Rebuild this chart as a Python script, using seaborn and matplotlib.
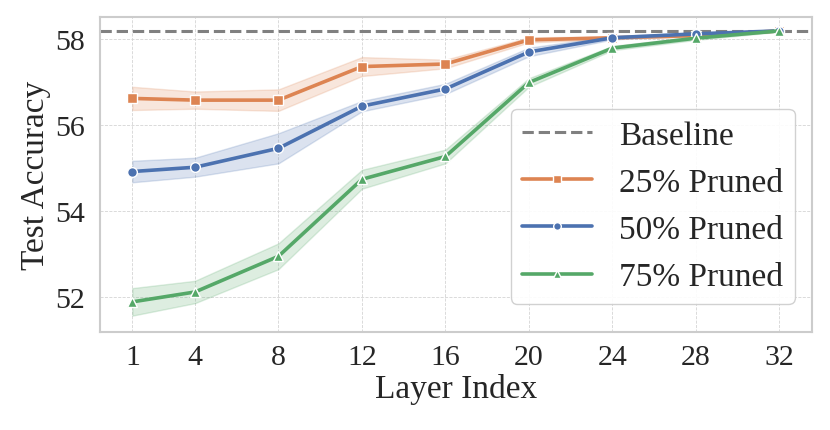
import matplotlib
matplotlib.use("Agg")
import matplotlib.pyplot as plt
import seaborn as sns
import pandas as pd

layers = [1, 4, 8, 12, 16, 20, 24, 28, 32]

acc_25 = [56.62, 56.58, 56.58, 57.36, 57.42, 57.98, 58.03, 58.08, 58.19]
err_25 = [0.27, 0.20, 0.25, 0.22, 0.10, 0.06, 0.03, 0.03, 0.02]
acc_50 = [54.92, 55.02, 55.46, 56.44, 56.84, 57.70, 58.03, 58.12, 58.19]
err_50 = [0.25, 0.22, 0.35, 0.12, 0.12, 0.10, 0.04, 0.03, 0.02]
acc_75 = [51.89, 52.12, 52.95, 54.74, 55.27, 56.99, 57.79, 58.02, 58.19]
err_75 = [0.32, 0.26, 0.30, 0.22, 0.16, 0.10, 0.05, 0.04, 0.02]
baseline = 58.19

series_names = ["25% Pruned", "50% Pruned", "75% Pruned"]
colors = ["#DD8452", "#4C72B0", "#55A868"]
markers = ["s", "o", "^"]

# long table: lower / mean / upper per point, band = min..max
rows = []
for name, acc, err in zip(series_names, [acc_25, acc_50, acc_75], [err_25, err_50, err_75]):
    for x, m, e in zip(layers, acc, err):
        for v in (m - e, m, m + e):
            rows.append({"Layer": x, "Accuracy": v, "Setting": name})
df = pd.DataFrame(rows)

sns.set_theme(style="whitegrid")
plt.rcParams["font.family"] = ["Liberation Serif", "DejaVu Serif"]

fig, ax = plt.subplots(figsize=(8.3, 4.31), dpi=100)
fig.subplots_adjust(left=0.1205, right=0.978, top=0.958, bottom=0.2274)

ax.axhline(baseline, color="#808080", linestyle="--", linewidth=2.2, label="Baseline", zorder=1)

sns.lineplot(
    data=df, x="Layer", y="Accuracy", hue="Setting", style="Setting",
    markers=markers, dashes=False, palette=colors, errorbar=("pi", 100),
    linewidth=2.6, markersize=7, markeredgecolor="white", markeredgewidth=1,
    ax=ax,
)

ax.set_xticks(layers)
ax.set_xlim(-0.55, 33.55)
ax.set_ylim(51.19, 58.51)
ax.set_yticks([52, 54, 56, 58])
ax.tick_params(axis="both", labelsize=21.5, pad=5)
ax.tick_params(axis="x", pad=3)
ax.set_xlabel("Layer Index", fontsize=24, labelpad=2)
ax.set_ylabel("Test Accuracy", fontsize=24, labelpad=3)

ax.grid(True, linestyle="--", linewidth=0.6, color="#d5d5d5")
for s in ax.spines.values():
    s.set_color("#cccccc")
    s.set_linewidth(1.5)

h, l = ax.get_legend_handles_labels()
leg = ax.legend(h, l, loc="lower right", fontsize=24, frameon=True,
                handlelength=2.1, borderpad=0.35, labelspacing=0.5,
                borderaxespad=0, bbox_to_anchor=(0.976, 0.089),
                edgecolor="#cccccc", framealpha=0.9)
for hh in leg.legend_handles:
    hh.set_markersize(5.5)

fig.savefig("out.png", dpi=100)
